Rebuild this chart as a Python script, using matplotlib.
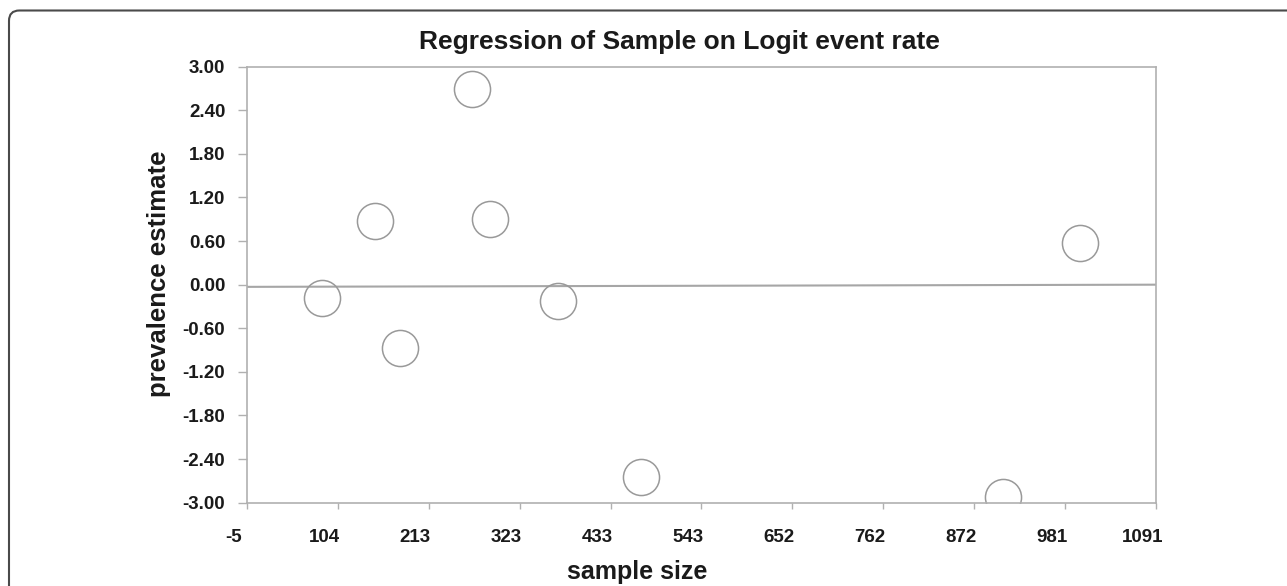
import matplotlib
matplotlib.use("Agg")
import matplotlib.pyplot as plt
import matplotlib.transforms as mtransforms
from matplotlib.patches import FancyBboxPatch

plt.rcParams["font.family"] = ["Liberation Sans", "DejaVu Sans"]

# data
sample_size = [85, 149, 180, 267, 288, 370, 470, 906, 999]
prevalence = [-0.19, 0.87, -0.87, 2.69, 0.90, -0.22, -2.65, -2.92, 0.58]

# regression line ends
line_x = [-5, 1091]
line_y = [-0.03, 0.0]

x_ticks = [-5, 104.6, 214.2, 323.8, 433.4, 543, 652.6, 762.2, 871.8, 981.4, 1091]
x_labels = ["-5", "104", "213", "323", "433", "543", "652", "762", "872", "981", "1091"]
y_ticks = [3.0, 2.4, 1.8, 1.2, 0.6, 0.0, -0.6, -1.2, -1.8, -2.4, -3.0]
y_labels = ["%.2f" % v for v in y_ticks]

fig = plt.figure(figsize=(12.87, 5.86), dpi=100)

# rounded outer frame, runs off the right and bottom edge
frame = FancyBboxPatch((9 / 1287, -0.2), 1.2, 1.2 - 10.5 / 586,
                       boxstyle="round,pad=0,rounding_size=0.008",
                       mutation_aspect=1287 / 586,
                       transform=fig.transFigure, fill=False,
                       edgecolor="#4a4a4a", linewidth=1.5)
fig.patches.append(frame)

ax = fig.add_axes([0.1918, 0.1422, 0.7064, 0.744])

ax.plot(line_x, line_y, color="#a6a6a6", linewidth=1.5, zorder=1)
ax.plot(sample_size, prevalence, linestyle="none", marker="o", markersize=26,
        markerfacecolor="none", markeredgecolor="#999999", markeredgewidth=1.1,
        zorder=2)

ax.set_xlim(-5, 1091)
ax.set_ylim(-3, 3)
ax.set_xticks(x_ticks)
ax.set_xticklabels(x_labels)
ax.set_yticks(y_ticks)
ax.set_yticklabels(y_labels)

for s in ax.spines.values():
    s.set_color("#b0b0b0")
    s.set_linewidth(1.2)

ax.tick_params(axis="y", direction="out", length=6.5, width=1, color="#b0b0b0",
               pad=9, labelsize=13.5)
ax.tick_params(axis="x", direction="out", length=4, width=1, color="#b0b0b0",
               pad=15, labelsize=13.5)
for lab in ax.get_xticklabels() + ax.get_yticklabels():
    lab.set_fontweight("bold")
    lab.set_color("#1a1a1a")

# x labels sit a bit left of their ticks in the original
offset = mtransforms.ScaledTranslation(-0.135, 0, fig.dpi_scale_trans)
for lab in ax.get_xticklabels():
    lab.set_transform(lab.get_transform() + offset)

fig.text(0.528, 1 - 48.5 / 586, "Regression of Sample on Logit event rate",
         ha="center", va="baseline", fontsize=19, fontweight="bold",
         color="#1a1a1a")
fig.text(0.495, 0.024, "sample size", ha="center", va="center",
         fontsize=18, fontweight="bold", color="#1a1a1a")
fig.text(0.1232, 0.532, "prevalence estimate", ha="center", va="center",
         rotation=90, fontsize=18.5, fontweight="bold", color="#1a1a1a")

fig.savefig("out.png", dpi=100)
